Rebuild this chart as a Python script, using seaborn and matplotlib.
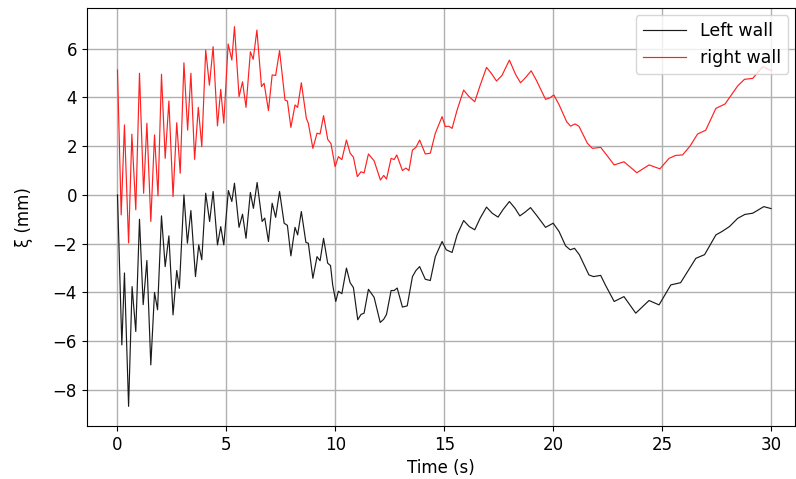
import numpy as np
import pandas as pd
import matplotlib
matplotlib.use("Agg")
import matplotlib.pyplot as plt
import seaborn as sns

t_right = [0.00, 0.17, 0.32, 0.51, 0.66, 0.84, 1.01, 1.20, 1.35, 1.53, 1.70, 1.86, 2.02, 2.19, 2.36, 2.55,
           2.72, 2.88, 3.05, 3.22, 3.37, 3.54, 3.71, 3.87, 4.05, 4.22, 4.39, 4.59, 4.74, 4.88, 5.08, 5.25,
           5.37, 5.58, 5.74, 5.90, 6.10, 6.23, 6.40, 6.61, 6.73, 6.93, 7.10, 7.26, 7.44, 7.69, 7.80, 7.96,
           8.15, 8.27, 8.44, 8.67, 8.76, 8.97, 9.16, 9.30, 9.46, 9.65, 9.80, 9.99, 10.14, 10.30, 10.51, 10.68,
           10.83, 11.01, 11.18, 11.32, 11.52, 11.78, 12.07, 12.22, 12.35, 12.56, 12.70, 12.82, 13.08, 13.24,
           13.38, 13.54, 13.70, 13.87, 14.13, 14.36, 14.59, 14.90, 15.05, 15.20, 15.36, 15.59, 15.89, 16.12,
           16.40, 16.65, 16.94, 17.15, 17.40, 17.65, 17.99, 18.27, 18.50, 18.72, 18.99, 19.23, 19.65, 19.85,
           20.03, 20.27, 20.62, 20.80, 21.00, 21.18, 21.57, 21.80, 22.18, 22.40, 22.80, 23.25, 23.84, 24.40,
           24.90, 25.32, 25.62, 25.94, 26.28, 26.63, 27.00, 27.47, 27.89, 28.47, 28.78, 29.16, 29.62, 30.03]
xi_right = [5.12, -0.82, 2.87, -1.97, 2.49, -0.61, 4.99, 0.07, 2.94, -1.09, 2.46, -0.04, 4.95, 1.50, 3.85, -0.07,
            2.96, 0.89, 5.42, 2.66, 4.99, 1.46, 3.59, 1.98, 5.94, 4.50, 6.08, 2.83, 4.33, 2.94, 6.19, 5.53,
            6.90, 4.03, 4.64, 3.59, 5.87, 5.56, 6.76, 4.44, 4.58, 3.46, 4.92, 4.90, 5.92, 3.89, 3.85, 2.77,
            3.69, 3.59, 4.60, 3.14, 2.94, 1.91, 2.53, 2.50, 3.25, 2.28, 2.10, 1.16, 1.57, 1.45, 2.25, 1.71,
            1.55, 0.75, 0.95, 0.90, 1.68, 1.40, 0.61, 0.80, 0.65, 1.50, 1.45, 1.64, 1.00, 1.10,
            1.00, 1.84, 1.95, 2.25, 1.68, 1.71, 2.53, 3.21, 2.80, 2.82, 2.73, 3.48, 4.30, 4.05,
            3.82, 4.50, 5.23, 5.00, 4.67, 4.90, 5.53, 4.95, 4.60, 4.80, 5.09, 4.70, 3.92, 3.98,
            4.10, 3.70, 3.00, 2.82, 2.91, 2.82, 2.12, 1.91, 1.95, 1.70, 1.23, 1.36, 0.91, 1.23,
            1.07, 1.50, 1.62, 1.64, 2.00, 2.50, 2.65, 3.55, 3.73, 4.47, 4.74, 4.78, 5.26, 5.09]

t_left = [0.00, 0.20, 0.32, 0.51, 0.67, 0.84, 1.01, 1.18, 1.35, 1.53, 1.70, 1.84, 2.02, 2.19, 2.36, 2.55,
          2.72, 2.84, 3.05, 3.21, 3.37, 3.58, 3.73, 3.87, 4.05, 4.23, 4.39, 4.59, 4.74, 4.88, 5.09, 5.25,
          5.37, 5.58, 5.74, 5.90, 6.10, 6.24, 6.41, 6.64, 6.76, 6.93, 7.10, 7.26, 7.44, 7.65, 7.80, 7.96,
          8.15, 8.27, 8.44, 8.65, 8.76, 8.97, 9.16, 9.30, 9.46, 9.65, 9.78, 9.88, 10.02, 10.14, 10.30, 10.51,
          10.68, 10.83, 11.03, 11.18, 11.32, 11.52, 11.78, 12.06, 12.22, 12.35, 12.56, 12.70, 12.84, 13.08,
          13.30, 13.54, 13.70, 13.87, 14.13, 14.36, 14.59, 14.90, 15.09, 15.36, 15.59, 15.89, 16.15, 16.40,
          16.65, 16.94, 17.20, 17.47, 17.70, 17.99, 18.25, 18.47, 18.72, 18.96, 19.25, 19.65, 20.00, 20.27,
          20.57, 20.78, 20.98, 21.20, 21.64, 21.85, 22.18, 22.40, 22.80, 23.25, 23.79, 24.40, 24.86, 25.40,
          25.85, 26.55, 26.95, 27.47, 27.75, 28.09, 28.47, 28.80, 29.16, 29.67, 30.00]
xi_left = [0.00, -6.15, -3.20, -8.67, -3.76, -5.60, -1.00, -4.50, -2.69, -6.97, -4.00, -4.71, -0.86, -2.94, -1.68, -4.92,
           -3.10, -3.83, 0.00, -1.98, -0.64, -3.35, -2.05, -2.66, 0.07, -1.09, 0.14, -2.05, -1.30, -2.05, 0.18, -0.27,
           0.48, -1.33, -0.79, -1.78, 0.10, -0.55, 0.51, -1.09, -0.95, -1.91, -0.34, -0.92, 0.14, -1.16, -1.25, -2.50,
           -1.33, -1.64, -0.68, -1.95, -1.98, -3.42, -2.53, -2.70, -1.78, -2.80, -2.90, -3.70, -4.37, -3.95, -4.05, -3.00,
           -3.60, -3.80, -5.12, -4.90, -4.85, -3.87, -4.20, -5.23, -5.10, -4.90, -3.92, -3.92, -3.82, -4.60,
           -4.55, -3.35, -3.10, -2.94, -3.46, -3.51, -2.53, -1.91, -2.25, -2.36, -1.64, -1.05, -1.30, -1.43,
           -0.95, -0.50, -0.75, -0.91, -0.60, -0.27, -0.55, -0.86, -0.70, -0.52, -0.85, -1.33, -1.16, -1.50,
           -2.09, -2.25, -2.19, -2.45, -3.28, -3.35, -3.30, -3.70, -4.37, -4.17, -4.85, -4.33, -4.51, -3.69,
           -3.60, -2.60, -2.45, -1.64, -1.50, -1.30, -0.96, -0.80, -0.75, -0.48, -0.56]

series_labels = ["Left wall", "right wall"]

df = pd.concat([
    pd.DataFrame({"t": t_left, "xi": xi_left, "wall": series_labels[0]}),
    pd.DataFrame({"t": t_right, "xi": xi_right, "wall": series_labels[1]}),
], ignore_index=True)

fig = plt.figure(figsize=(7.96, 4.79), dpi=100)
ax = fig.add_axes([0.109, 0.111, 0.89, 0.872])

sns.lineplot(data=df, x="t", y="xi", hue="wall", palette={"Left wall": "#1a1a1a", "right wall": "#ff2020"},
             estimator=None, sort=False, linewidth=0.85, ax=ax)

ax.set_xlim(-1.41, 31.11)
ax.set_ylim(-9.47, 7.66)
ax.set_xticks([0, 5, 10, 15, 20, 25, 30])
ax.set_yticks([-8, -6, -4, -2, 0, 2, 4, 6])
ax.grid(True, color="#b0b0b0", linewidth=1.0)
ax.set_axisbelow(True)
ax.set_xlabel("Time (s)", fontsize=12)
ax.set_ylabel("ξ (mm)", fontsize=12, labelpad=14)
ax.tick_params(labelsize=12)
leg = ax.legend(loc="upper right", fontsize=12.5, handlelength=2.5, borderaxespad=0.4)
leg.set_title(None)

fig.savefig("out.png", dpi=100)
